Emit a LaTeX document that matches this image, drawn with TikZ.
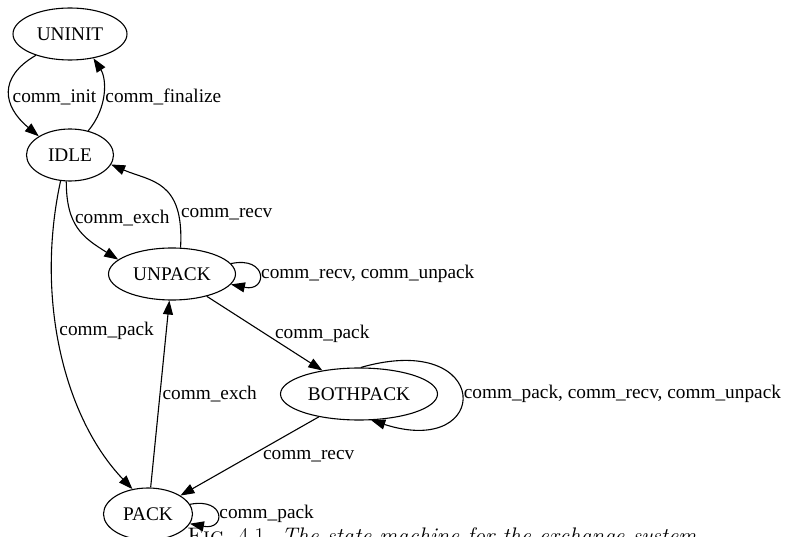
\documentclass[tikz,border=0pt]{standalone}
\usepackage{fontspec}
\newfontfamily\gvfont{Liberation Serif}
\usetikzlibrary{shapes.geometric,arrows.meta}
\tikzset{
  state/.style={ellipse,draw,line width=1.1pt,inner sep=0pt,minimum height=52pt,font=\gvfont\fontsize{19.3}{23}\selectfont},
  trans/.style={-{Triangle[length=14pt,width=10pt]},line width=1.1pt},
  lbl/.style={font=\gvfont\fontsize{19.3}{23}\selectfont,inner sep=2pt},
}
\begin{document}
\begin{tikzpicture}[x=1pt,y=1pt]
	\useasboundingbox (0,0) rectangle (785,-537);
	\node[state,minimum width=114pt] (uninit) at (70,-34) {UNINIT};
	\node[state,minimum width=87pt] (idle) at (70,-155) {IDLE};
	\node[state,minimum width=127pt] (unpack) at (172,-274) {UNPACK};
	\node[state,minimum width=157pt] (bothpack) at (359,-394) {BOTHPACK};
	\node[state,minimum width=89pt] (pack) at (148,-514) {PACK};
	\draw[trans] (uninit.212) .. controls +(-38,-22) and +(-36,30) .. node[lbl,anchor=west,pos=0.55] {comm\_init} (idle.149);
	\draw[trans] (idle.53) .. controls +(20,24) and +(13,-20) .. node[lbl,anchor=west,pos=0.45] {comm\_finalize} (uninit.-46);
	\draw[trans] (idle.262) .. controls +(0,-45) and +(-35,22) .. node[lbl,anchor=west,pos=0.35] {comm\_exch} (unpack.165);
	\draw[trans] (unpack.72) .. controls +(4,68) and +(39,-17) .. node[lbl,anchor=west,pos=0.2] {comm\_recv} (idle.-13);
	\draw[trans] (unpack.10) .. controls +(37,8) and +(37,-8) .. node[lbl,anchor=west] {comm\_recv, comm\_unpack} (unpack.-10);
	\draw[trans] (idle.250) .. controls +(-26,-120) and +(-67,70) .. node[lbl,anchor=west,pos=0.43] {comm\_pack} (pack.122);
	\draw[trans] (unpack) -- node[lbl,anchor=west,xshift=8pt] {comm\_pack} (bothpack);
	\draw[trans] (pack) -- node[lbl,anchor=west] {comm\_exch} (unpack);
	\draw[trans] (bothpack.86) .. controls +(132,38) and +(122,-39) .. node[lbl,anchor=west] {comm\_pack, comm\_recv, comm\_unpack} (bothpack.-65);
	\draw[trans] (bothpack) -- node[lbl,anchor=west,xshift=11pt] {comm\_recv} (pack);
	\draw[trans] (pack.13) .. controls +(36,7) and +(36,-7) .. node[lbl,anchor=west] {comm\_pack} (pack.-13);
	\node[anchor=base west,inner sep=0pt,font=\fontsize{22.5}{27}\selectfont] (caption) at (187,-543.5) {\textsc{Fig.}~4.1.\enspace\textit{The state machine for the exchange system}};
\end{tikzpicture}
\end{document}
